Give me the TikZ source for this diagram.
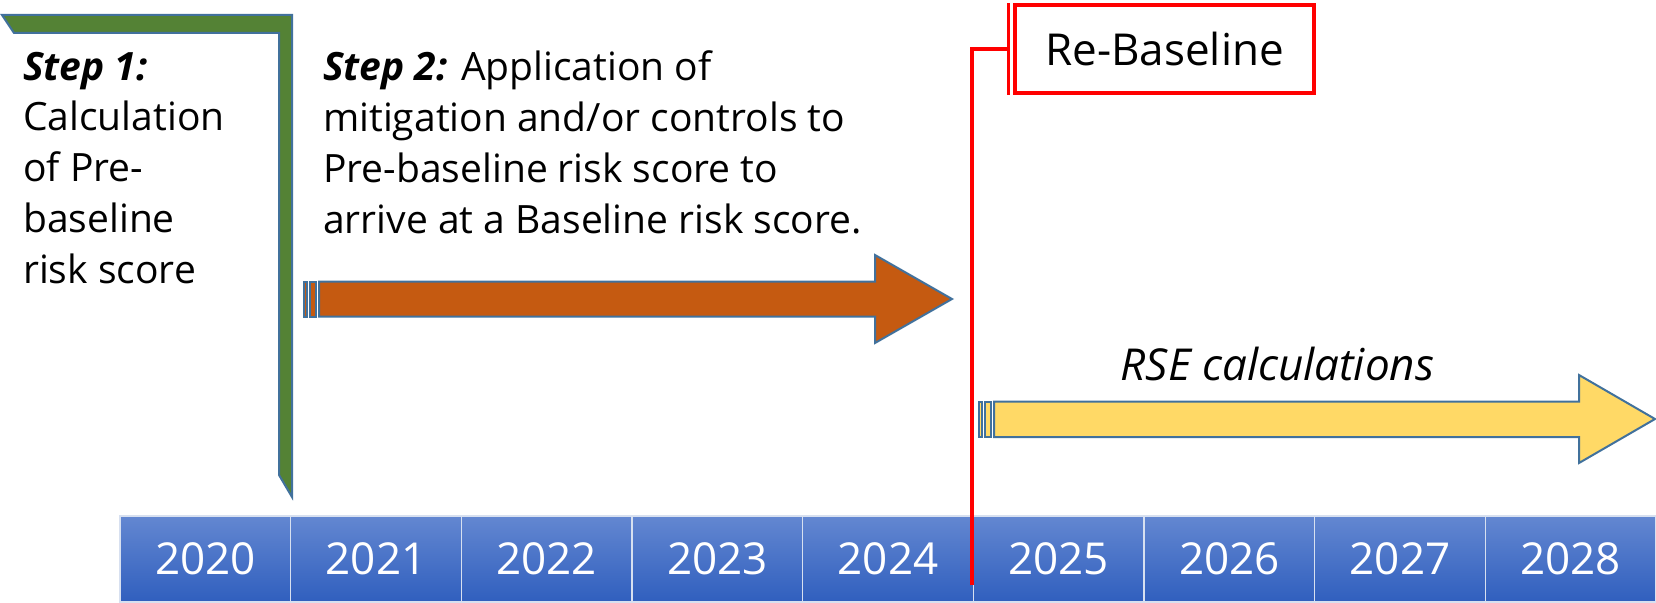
\documentclass[tikz,border=0pt]{standalone}
\usepackage{fontspec}
\setmainfont{Open Sans}
\usetikzlibrary{positioning}

\definecolor{outline}{RGB}{65,113,156}
\definecolor{stepgreen}{RGB}{84,130,53}
\definecolor{steporange}{RGB}{197,90,17}
\definecolor{rseyellow}{RGB}{255,217,102}
\definecolor{yeartop}{RGB}{99,135,209}
\definecolor{yearbot}{RGB}{48,95,190}
\definecolor{yearline}{RGB}{215,224,240}

\tikzset{
  frame/.style={draw=outline, line width=2pt, line join=miter},
  year/.style={rectangle, minimum width=170.67pt, minimum height=86pt, inner sep=0pt, outer sep=0pt,
    draw=yearline, line width=1.5pt, top color=yeartop, bottom color=yearbot, text=white,
    font=\fontsize{44}{50}\selectfont},
  steptext/.style={align=left, anchor=base west, inner sep=0pt, font=\fontsize{39}{50.7}\selectfont},
  callout/.style={rectangle, draw=red, line width=3.5pt, minimum width=299pt, minimum height=88pt,
    inner sep=0pt, font=\fontsize{44}{50}\selectfont},
  redline/.style={draw=red, line width=3.5pt}
}

\begin{document}
\begin{tikzpicture}[x=1pt, y=-1pt]
  \useasboundingbox (0,0) rectangle (1656,602);

  % Years
  \node[year] (y2020) at (205.33,559) {2020};
  \foreach \n [evaluate = \n as \m using (int(\n - 1))] in {2021,...,2028} {
    \node[year] (y\n) [right=0pt of y\m] {\n};
  }

  % Re-baseline callout
  \node[callout] (rebase) at (1164.5,49) {Re-Baseline};
  \coordinate (cut) at (972,585);
  \draw[redline] (cut) |- ([xshift=-5pt]rebase.west);
  \draw[redline] ([xshift=-5pt]rebase.north west) -- ([xshift=-5pt]rebase.south west);

  % Step 1 bracket
  \filldraw[frame, fill=stepgreen] (2,15) -- (292,15) -- (292,497) -- (279,475) -- (279,33) -- (14,33) -- cycle;

  % Step 2 arrow
  \filldraw[frame, fill=steporange] (319,281.5) -- (875,281.5) -- (875,255) -- (952,299) -- (875,343)
    -- (875,316.5) -- (319,316.5) -- cycle;
  \filldraw[frame, fill=steporange] (304,281.5) rectangle (306.5,316.5);
  \filldraw[frame, fill=steporange] (310,281.5) rectangle (316,316.5);

  % RSE arrow
  \filldraw[frame, fill=rseyellow] (994,401.5) -- (1579,401.5) -- (1579,375) -- (1655,419) -- (1579,463)
    -- (1579,437) -- (994,437) -- cycle;
  \filldraw[frame, fill=rseyellow] (979,401.5) rectangle (981.5,437);
  \filldraw[frame, fill=rseyellow] (985,401.5) rectangle (991,437);

  % Labels (base = last line)
  \node[steptext] (step1) at (23,283) {\textbf{\textit{Step 1:}}\\Calculation\\of Pre-\\baseline\\risk score};
  \node[steptext] (step2) at (323,233) {\textbf{\textit{Step 2:}} Application of\\mitigation and/or controls to\\Pre-baseline risk score to\\arrive at a Baseline risk score.};
  \node[anchor=base, inner sep=0pt, font=\fontsize{44}{50}\selectfont\itshape] (rse) at (1277.5,380) {RSE calculations};
\end{tikzpicture}
\end{document}
